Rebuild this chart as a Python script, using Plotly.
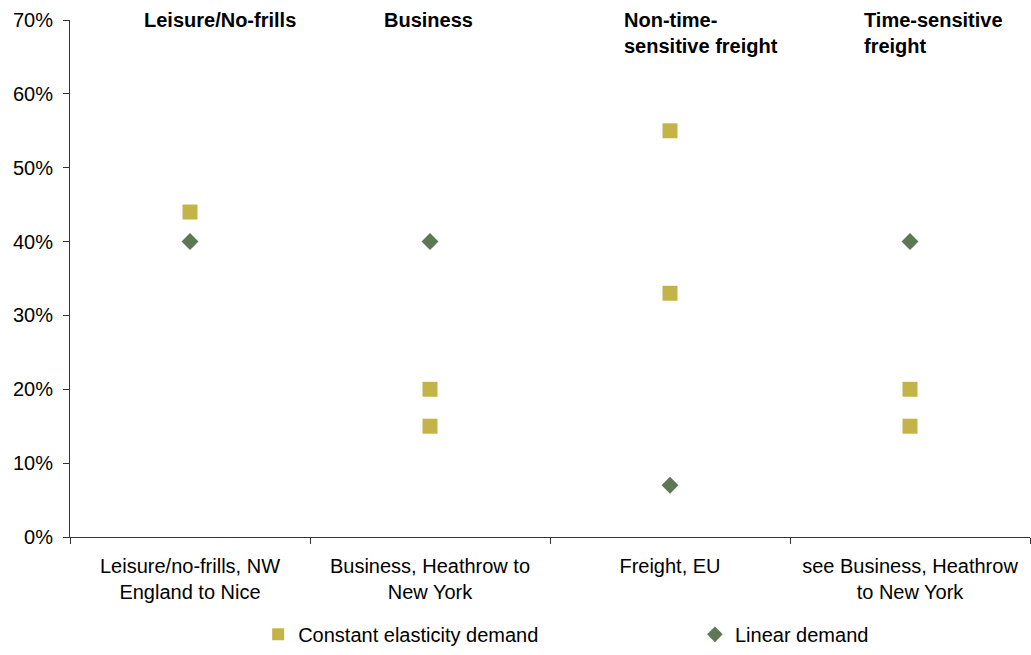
import plotly.graph_objects as go

# Route categories along the x axis
categories = [
    "Leisure/no-frills, NW<br>England to Nice",
    "Business, Heathrow to<br>New York",
    "Freight, EU",
    "see Business, Heathrow<br>to New York",
]
segment_headers = [
    "Leisure/No-frills",
    "Business",
    "Non-time-<br>sensitive freight",
    "Time-sensitive<br>freight",
]

# Constant elasticity demand estimates (fraction)
const_x = [categories[0], categories[1], categories[1], categories[2], categories[2], categories[3], categories[3]]
const_y = [0.44, 0.20, 0.15, 0.55, 0.33, 0.20, 0.15]

# Linear demand estimates (fraction)
linear_x = [categories[0], categories[1], categories[2], categories[3]]
linear_y = [0.40, 0.40, 0.07, 0.40]

y_ticks = [0, 0.1, 0.2, 0.3, 0.4, 0.5, 0.6, 0.7]

FONT = "Liberation Sans, Arial, sans-serif"
GOLD = "#C4B448"
GREEN = "#5E7856"
AXIS = "#333333"

fig = go.Figure()
fig.add_trace(go.Scatter(
    x=const_x, y=const_y, mode="markers", name="Constant elasticity demand",
    marker=dict(symbol="square", size=15, color=GOLD), legend="legend",
))
fig.add_trace(go.Scatter(
    x=linear_x, y=linear_y, mode="markers", name="Linear demand",
    marker=dict(symbol="diamond", size=13, color=GREEN), legend="legend2",
))

for i, h in enumerate(segment_headers):
    fig.add_annotation(
        x=i - 0.2, y=1.0, xref="x", yref="paper",
        text=f"<b>{h}</b>", showarrow=False, xanchor="left", yanchor="top",
        align="left", yshift=13,
        font=dict(family=FONT, size=20, color="#000000"),
    )

legend_style = dict(
    orientation="h", yanchor="bottom", xanchor="left", y=-0.226,
    font=dict(family=FONT, size=20, color="#000000"),
    bgcolor="rgba(0,0,0,0)", itemsizing="constant",
)

fig.update_layout(
    width=1031, height=655,
    margin=dict(l=70, r=1, t=20, b=118),
    plot_bgcolor="white", paper_bgcolor="white",
    font=dict(family=FONT, size=20, color="#000000"),
    showlegend=True,
    legend=dict(x=0.196, **legend_style),
    legend2=dict(x=0.651, **legend_style),
    xaxis=dict(
        type="category", categoryorder="array", categoryarray=categories,
        range=[-0.5, 3.5], tickson="boundaries", ticks="outside", ticklen=6,
        tickcolor=AXIS, showline=True, linecolor=AXIS, linewidth=1,
        showgrid=False, zeroline=False, tickfont=dict(size=20),
        ticklabelstandoff=11,
    ),
    yaxis=dict(
        range=[0, 0.7], tickvals=y_ticks, tickformat=".0%", ticks="outside",
        ticklen=6, tickcolor=AXIS, showline=True, linecolor=AXIS,
        linewidth=1, showgrid=False, zeroline=False, tickfont=dict(size=20),
        ticklabelstandoff=6,
    ),
)

fig.write_html("out.html")
